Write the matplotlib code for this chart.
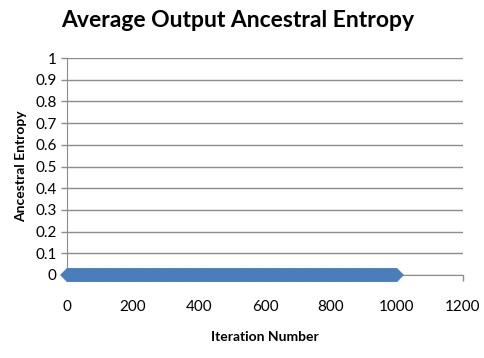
import matplotlib.pyplot as plt

# iteration numbers and average output ancestral entropy (flat at zero)
iterations = [0, 50, 100, 150, 200, 250, 300, 350, 400, 450, 500,
              550, 600, 650, 700, 750, 800, 850, 900, 950, 1000]
entropy = [0, 0, 0, 0, 0, 0, 0, 0, 0, 0, 0,
           0, 0, 0, 0, 0, 0, 0, 0, 0, 0]

x_ticks = [0, 200, 400, 600, 800, 1000, 1200]
y_ticks = [0, 0.1, 0.2, 0.3, 0.4, 0.5, 0.6, 0.7, 0.8, 0.9, 1]
y_labels = ["0", "0.1", "0.2", "0.3", "0.4", "0.5", "0.6", "0.7", "0.8", "0.9", "1"]

plt.rcParams['font.family'] = ['Lato', 'DejaVu Sans']

fig = plt.figure(figsize=(4.84, 3.58), dpi=100)
ax = fig.add_axes([67 / 484, 1 - 275 / 358, 396 / 484, 217 / 358])

blue = "#4a7ebb"
ax.plot(iterations, entropy, color=blue, lw=10, solid_capstyle="butt",
        marker="D", markersize=7, markeredgewidth=0, clip_on=False, zorder=3)

ax.set_xlim(0, 1200)
ax.set_ylim(0, 1)
ax.set_xticks(x_ticks)
ax.set_yticks(y_ticks)
ax.set_yticklabels(y_labels)

grid_col = "#8c8c8c"
ax.grid(axis="y", color=grid_col, lw=1)
ax.set_axisbelow(True)
for s in ["top", "right"]:
    ax.spines[s].set_visible(False)
ax.spines["left"].set_color(grid_col)
ax.spines["bottom"].set_color(grid_col)
ax.tick_params(axis="both", colors=grid_col, labelcolor="black", labelsize=11,
               length=4, width=1)
ax.tick_params(axis="x", pad=14)

ax.set_xlabel("Iteration Number", fontsize=10, fontweight="bold", labelpad=12)
ax.set_ylabel("Ancestral Entropy", fontsize=10, fontweight="bold", labelpad=6)
fig.text(0.492, 0.944, "Average Output Ancestral Entropy", fontsize=16.5,
         fontweight="bold", ha="center", va="center")

fig.savefig("out.png", dpi=100)
